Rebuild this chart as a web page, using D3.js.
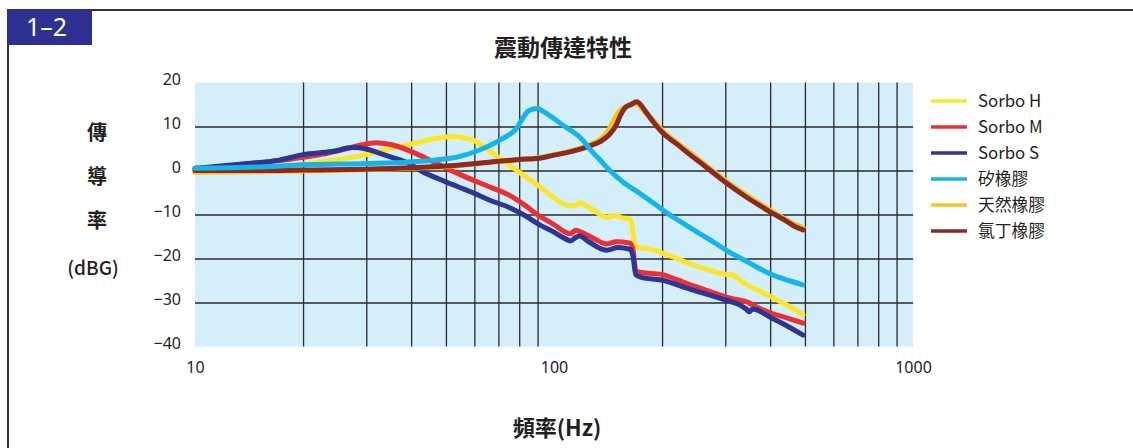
<!DOCTYPE html>
<html>
<head>
<meta charset="utf-8">
<script src="https://cdn.jsdelivr.net/npm/d3@7"></script>
<style>
  html, body { margin: 0; padding: 0; background: #fff; }
  svg { display: block; font-family: "Noto Sans CJK TC", "Noto Sans", sans-serif; }
</style>
</head>
<body>
<div id="chart"></div>
<script>
// vibration transmissibility chart, log frequency vs dB

const seriesNames = ['Sorbo H', 'Sorbo M', 'Sorbo S', '矽橡膠', '天然橡膠', '氯丁橡膠'];
const seriesColors = ['#fbe62c', '#ea2f35', '#2e3593', '#13b5ea', '#f9c420', '#8b2a20'];

// [Hz, dB]
const sorboH = [[10,-0.4],[12,-0.3],[15,0],[18,0.8],[20,1.4],[25,2.5],[30,3.6],[35,5],[40,6],[45,7],[50,7.6],[53,7.7],[57,7.3],[60,6.8],[66,4.5],[74,1.6],[82,-1],[91,-3.6],[100,-6.2],[110,-8],[115,-7.9],[118,-7.3],[122,-7.9],[130,-9.2],[140,-10.6],[149,-10.2],[155,-10.8],[161,-10.9],[164,-11.6],[168,-16.8],[172,-17.5],[185,-17.8],[199,-18.7],[220,-20],[240,-21.3],[270,-22.6],[300,-23.6],[315,-23.7],[330,-25],[343,-25.9],[370,-27.2],[405,-28.8],[450,-30.8],[494,-32.8]];
const sorboM = [[10,0.3],[12,0.8],[14,1.5],[17,2.2],[20,3],[23,3.8],[26,4.8],[29,5.8],[32,6.3],[35,5.9],[39,4.7],[44,2.8],[48,1.3],[55,-1],[66,-3.7],[75,-5.6],[82,-7.6],[91,-10.3],[100,-12.3],[107,-13.9],[111,-14.4],[115,-13.6],[119,-14],[130,-15.6],[140,-16.7],[149,-16.2],[163,-16.5],[166,-18],[169,-22.8],[175,-23.2],[199,-23.6],[220,-24.8],[240,-26],[270,-27.4],[300,-28.7],[330,-29.5],[343,-29.8],[370,-31.2],[405,-32.5],[450,-33.6],[494,-34.7]];
const sorboS = [[10,0.5],[12,1.1],[14,1.6],[17,2.3],[20,3.6],[24,4.3],[27.5,5.2],[30,4.9],[32,4.2],[35,3.1],[39,1.8],[43,-0.3],[48,-2],[54,-3.7],[60,-5.2],[66,-6.7],[75,-8.4],[82,-10],[91,-12.3],[100,-14],[108,-15.6],[111,-16],[115,-15.2],[118,-14.9],[125,-16.2],[140,-18.1],[151,-17.5],[163,-17.9],[166,-19.5],[169,-23.7],[175,-24.3],[199,-24.9],[240,-27],[300,-29.4],[330,-30.6],[343,-31.5],[350,-32.1],[357,-31.5],[405,-33.6],[450,-35.5],[494,-37.4]];
const siliconeRubber = [[10,0.5],[15,0.8],[20,1.3],[30,1.6],[39,1.9],[47,2.4],[54,3.1],[60,4.2],[66,5.6],[72,7.3],[78.7,9.6],[82,12],[85,13.6],[90,14.1],[93,13.5],[100,11.8],[105,10.5],[111,9.2],[120,7],[126,4.8],[135,2.2],[143,0],[155,-2.5],[174,-5.3],[190,-7.5],[205,-9.5],[233,-12.4],[254,-14.3],[275,-16],[300,-18],[350,-21],[400,-23.5],[450,-25],[494,-26]];
const naturalRubber = [[10,-0.4],[15,-0.3],[20,-0.1],[30,0.2],[40,0.5],[50,0.9],[66,1.8],[80,2.5],[91,2.9],[100,3.6],[113,4.6],[125,5.8],[134,7],[142,9.2],[148,12],[153,13.8],[160,14.6],[167,15.2],[172,14.9],[178,13.5],[190,11.2],[201,9],[220,6.4],[240,4],[265,1.2],[295,-1.8],[340,-5.3],[400,-9],[446,-11.3],[470,-12.3],[494,-13]];
const neopreneRubber = [[10,0],[15,0],[20,0.1],[30,0.3],[40,0.6],[50,1],[66,1.9],[80,2.5],[91,2.8],[100,3.5],[113,4.4],[125,5.5],[134,6.5],[142,8],[149,10.3],[153,12.5],[158,14.3],[164,15],[170,15.6],[175,14.8],[180,13.4],[190,10.8],[201,8.5],[220,6],[240,3.5],[265,0.8],[295,-2.2],[340,-5.8],[400,-9.4],[446,-11.6],[470,-12.8],[494,-13.5]];

const seriesData = [sorboH, sorboM, sorboS, siliconeRubber, naturalRubber, neopreneRubber];
const drawOrder = [0, 1, 2, 4, 5, 3];

const yTicks = [20, 10, 0, -10, -20, -30, -40];
const yGrid = [10, 0, -10, -20, -30];
const xTicks = [10, 100, 1000];
const xGrid = [20, 30, 40, 50, 60, 70, 80, 90, 200, 300, 400, 500, 600, 700, 800, 900];

const W = 1133, H = 448;
const plot = { left: 195, right: 913, top: 82.5, bottom: 346.5 };
const ink = '#231f20';

const svg = d3.select('#chart').append('svg')
  .attr('width', W).attr('height', H);

// frame + badge
svg.append('path')
  .attr('d', `M8,${H} L8,10 L${W},10`)
  .attr('fill', 'none').attr('stroke', '#333').attr('stroke-width', 2);
svg.append('rect').attr('x', 7).attr('y', 9).attr('width', 85).attr('height', 36).attr('fill', '#2e3192');
svg.append('text').attr('x', 26).attr('y', 36).attr('fill', '#fff')
  .style('font-size', '25px').style('font-family', '"Noto Sans", sans-serif').text('1–2');

svg.append('text').attr('x', 563).attr('y', 56).attr('text-anchor', 'middle')
  .style('font-size', '23px').style('font-weight', 'bold').attr('fill', ink).text('震動傳達特性');

const x = d3.scaleLog().domain([10, 1000]).range([plot.left, plot.right]);
const y = d3.scaleLinear().domain([-40, 20]).range([plot.bottom, plot.top]);

svg.append('rect')
  .attr('x', plot.left).attr('y', plot.top)
  .attr('width', plot.right - plot.left).attr('height', plot.bottom - plot.top)
  .attr('fill', '#d4eefa');

// grid
const gx = svg.append('g').attr('transform', `translate(0,${plot.bottom})`)
  .call(d3.axisBottom(x).tickValues(xGrid).tickSize(-(plot.bottom - plot.top)).tickFormat(''));
gx.select('.domain').remove();
gx.selectAll('line').attr('stroke', '#2b2b2b').attr('stroke-width', 1.3);

const gy = svg.append('g').attr('transform', `translate(${plot.left},0)`)
  .call(d3.axisLeft(y).tickValues(yGrid).tickSize(-(plot.right - plot.left)).tickFormat(''));
gy.select('.domain').remove();
gy.selectAll('line').attr('stroke', '#2b2b2b').attr('stroke-width', 1.3);

// tick labels
const ly = svg.append('g').attr('transform', `translate(${plot.left - 11},-3)`)
  .call(d3.axisLeft(y).tickValues(yTicks).tickSize(0).tickFormat(d => d < 0 ? '−' + Math.abs(d) : d));
ly.select('.domain').remove();
ly.selectAll('text').style('font-size', '16px').style('font-family', '"Noto Sans", sans-serif').attr('fill', ink);

const lx = svg.append('g').attr('transform', `translate(0,${plot.bottom + 12})`)
  .call(d3.axisBottom(x).tickValues(xTicks).tickSize(0).tickFormat(d3.format('d')));
lx.select('.domain').remove();
lx.selectAll('text').style('font-size', '16px').style('font-family', '"Noto Sans", sans-serif').attr('fill', ink);

// axis titles
svg.append('text').attr('x', 557).attr('y', 436).attr('text-anchor', 'middle')
  .style('font-size', '22px').style('font-weight', 'bold').attr('fill', ink).text('頻率(Hz)');
const yLab = ['傳', '導', '率'];
yLab.forEach((c, i) => {
  svg.append('text').attr('x', 97).attr('y', 140 + i * 44).attr('text-anchor', 'middle')
    .style('font-size', '20px').style('font-weight', 'bold').attr('fill', ink).text(c);
});
svg.append('text').attr('x', 93).attr('y', 275).attr('text-anchor', 'middle')
  .style('font-size', '19px').style('font-weight', '500').attr('fill', ink).text('(dBG)');

// curves
const line = d3.line()
  .x(d => x(d[0])).y(d => y(d[1]))
  .curve(d3.curveMonotoneX);

svg.append('g').selectAll('path')
  .data(drawOrder)
  .join('path')
  .attr('d', i => line(seriesData[i]))
  .attr('fill', 'none')
  .attr('stroke', i => seriesColors[i])
  .attr('stroke-width', 5)
  .attr('stroke-linejoin', 'round')
  .attr('stroke-linecap', 'round');

// legend
const leg = svg.append('g');
seriesNames.forEach((name, i) => {
  const yy = 101 + i * 26;
  leg.append('line').attr('x1', 931).attr('x2', 967).attr('y1', yy).attr('y2', yy)
    .attr('stroke', seriesColors[i]).attr('stroke-width', 3.5);
  leg.append('text').attr('x', 978).attr('y', yy).attr('dy', '0.35em')
    .style('font-size', '16.8px').attr('fill', ink).text(name);
});
</script>
</body>
</html>
